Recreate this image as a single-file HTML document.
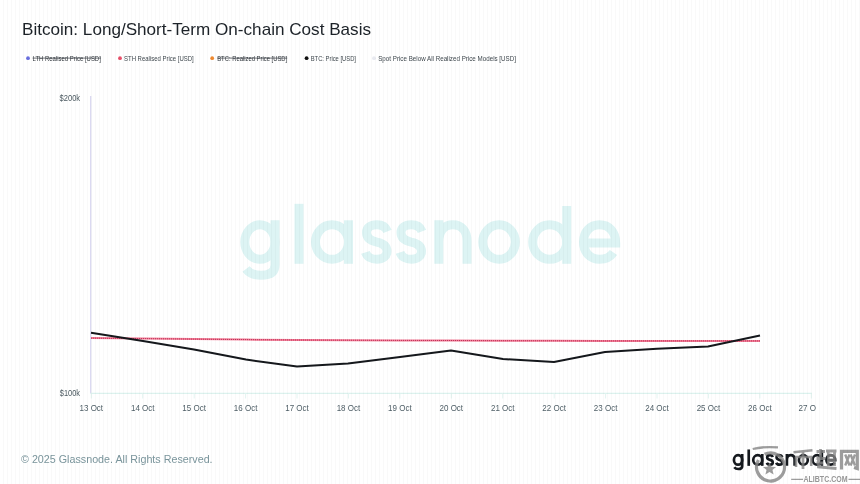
<!DOCTYPE html>
<html><head><meta charset="utf-8">
<style>
html,body{margin:0;padding:0;width:860px;height:484px;overflow:hidden;background:#fff;}
body{position:relative;font-family:"Liberation Sans",sans-serif;}
.stripes{position:absolute;left:0;top:0;width:860px;height:484px;z-index:5;
 background:repeating-linear-gradient(90deg,rgba(0,0,0,0) 0px,rgba(0,0,0,0) 3px,rgba(0,0,0,0.022) 3px,rgba(0,0,0,0.022) 4px);}
svg{position:absolute;left:0;top:0;will-change:transform;}
</style></head>
<body>
<div class="stripes"></div>
<svg width="860" height="484" viewBox="0 0 860 484" font-family="Liberation Sans, sans-serif">
 <!-- title -->
 <text x="22" y="34.7" font-size="17" fill="#1c2228" textLength="349" lengthAdjust="spacingAndGlyphs">Bitcoin: Long/Short-Term On-chain Cost Basis</text>

 <!-- legend -->
 <g font-size="7">
  <circle cx="28" cy="58.2" r="1.9" fill="#6a70e0"/>
  <text x="32.6" y="60.8" fill="#30363c" textLength="68.2" lengthAdjust="spacingAndGlyphs">LTH Realised Price [USD]</text>
  <line x1="32.6" y1="58.1" x2="100.8" y2="58.1" stroke="#30363c" stroke-width="0.7"/>

  <circle cx="120" cy="58.2" r="1.9" fill="#e8506a"/>
  <text x="124" y="60.8" fill="#3e474d" textLength="69.7" lengthAdjust="spacingAndGlyphs">STH Realised Price [USD]</text>

  <circle cx="212.2" cy="58.2" r="1.9" fill="#f08a30"/>
  <text x="217.2" y="60.8" fill="#30363c" textLength="70" lengthAdjust="spacingAndGlyphs">BTC: Realized Price [USD]</text>
  <line x1="217.2" y1="58.1" x2="287.2" y2="58.1" stroke="#30363c" stroke-width="0.7"/>

  <circle cx="306.6" cy="58.2" r="1.9" fill="#111"/>
  <text x="310.7" y="60.8" fill="#3e474d" textLength="45.3" lengthAdjust="spacingAndGlyphs">BTC: Price [USD]</text>

  <circle cx="374" cy="58.2" r="1.9" fill="#e8eaf0"/>
  <text x="378.2" y="60.8" fill="#3e474d" textLength="137.8" lengthAdjust="spacingAndGlyphs">Spot Price Below All Realized Price Models [USD]</text>
 </g>

 <!-- watermark center -->
 <defs><g id="gn" fill="none">
  <ellipse cx="259.9" cy="242.05" rx="15.1" ry="17.25"/>
  <path d="M275 220.3 V265 C275 272.5, 269.5 275.3, 261 275.3 C254.5 275.3, 249.5 273.5, 246 269"/>
  <line x1="299" y1="203.8" x2="299" y2="263.8"/>
  <ellipse cx="332" cy="242.05" rx="16.5" ry="17.25"/>
  <line x1="348.5" y1="220.3" x2="348.5" y2="263.8"/>
  <path d="M387.5 231.3 C385.5 226.3, 380.8 224.8, 376.8 224.8 C370.5 224.8, 366.5 227.8, 366.5 232.5 C366.5 238.8, 371.5 240.9, 376.8 242.1 C382.0 243.2, 387.0 245.4, 387.0 251.3 C387.0 256.3, 382.5 259.3, 376.8 259.3 C371.5 259.3, 367.0 256.8, 365.5 252.3"/>
  <path d="M422.0 231.3 C420.0 226.3, 415.2 224.8, 411.2 224.8 C405.0 224.8, 401.0 227.8, 401.0 232.5 C401.0 238.8, 406.0 240.9, 411.2 242.1 C416.5 243.2, 421.5 245.4, 421.5 251.3 C421.5 256.3, 417.0 259.3, 411.2 259.3 C406.0 259.3, 401.5 256.8, 400.0 252.3"/>
  <path d="M438.8 220.3 V263.8 M438.8 242 C438.8 230.5, 444.5 224.8, 452.9 224.8 C461.3 224.8, 467 230.5, 467 241 V263.8"/>
  <ellipse cx="499.05" cy="242.05" rx="16.25" ry="17.25"/>
  <ellipse cx="549.7" cy="242.05" rx="17" ry="17.25"/>
  <line x1="566.7" y1="206" x2="566.7" y2="263.8"/>
  <path d="M583.5 243 H615.7 C615.7 232, 609 224.8, 599.6 224.8 C590 224.8, 583.5 232, 583.5 242 C583.5 252.5, 590.5 259.3, 599.6 259.3 C606 259.3, 610.5 256.8, 613.5 252.5"/>
 </g></defs>
 <use href="#gn" stroke="#ddf4f4" stroke-width="9"/>

 <!-- axes -->
 <line x1="90.75" y1="96" x2="90.75" y2="393.5" stroke="#cfcdec" stroke-width="1"/>
 <line x1="90.5" y1="393.4" x2="812" y2="393.4" stroke="#dcf2ee" stroke-width="1.4"/>
 <g stroke="#e4f4f1" stroke-width="1">
  <line x1="91.3" y1="393.5" x2="91.3" y2="398.5"/>
  <line x1="142.7" y1="393.5" x2="142.7" y2="398.5"/>
  <line x1="194.2" y1="393.5" x2="194.2" y2="398.5"/>
  <line x1="245.6" y1="393.5" x2="245.6" y2="398.5"/>
  <line x1="297.0" y1="393.5" x2="297.0" y2="398.5"/>
  <line x1="348.4" y1="393.5" x2="348.4" y2="398.5"/>
  <line x1="399.9" y1="393.5" x2="399.9" y2="398.5"/>
  <line x1="451.3" y1="393.5" x2="451.3" y2="398.5"/>
  <line x1="502.7" y1="393.5" x2="502.7" y2="398.5"/>
  <line x1="554.2" y1="393.5" x2="554.2" y2="398.5"/>
  <line x1="605.6" y1="393.5" x2="605.6" y2="398.5"/>
  <line x1="657.0" y1="393.5" x2="657.0" y2="398.5"/>
  <line x1="708.4" y1="393.5" x2="708.4" y2="398.5"/>
  <line x1="759.9" y1="393.5" x2="759.9" y2="398.5"/>
  <line x1="811.3" y1="393.5" x2="811.3" y2="398.5"/>
 </g>
 <g font-size="8.3" fill="#4a585f">
  <text x="59.6" y="100.6" textLength="20.5" lengthAdjust="spacingAndGlyphs">$200k</text>
  <text x="59.8" y="395.8" textLength="20.2" lengthAdjust="spacingAndGlyphs">$100k</text>
 </g>
 <g font-size="8.9" fill="#4f5f67">
  <text x="79.52" y="410.8" textLength="23.57" lengthAdjust="spacingAndGlyphs">13 Oct</text>
  <text x="130.95" y="410.8" textLength="23.57" lengthAdjust="spacingAndGlyphs">14 Oct</text>
  <text x="182.37" y="410.8" textLength="23.57" lengthAdjust="spacingAndGlyphs">15 Oct</text>
  <text x="233.80" y="410.8" textLength="23.57" lengthAdjust="spacingAndGlyphs">16 Oct</text>
  <text x="285.23" y="410.8" textLength="23.57" lengthAdjust="spacingAndGlyphs">17 Oct</text>
  <text x="336.66" y="410.8" textLength="23.57" lengthAdjust="spacingAndGlyphs">18 Oct</text>
  <text x="388.09" y="410.8" textLength="23.57" lengthAdjust="spacingAndGlyphs">19 Oct</text>
  <text x="439.52" y="410.8" textLength="23.57" lengthAdjust="spacingAndGlyphs">20 Oct</text>
  <text x="490.95" y="410.8" textLength="23.57" lengthAdjust="spacingAndGlyphs">21 Oct</text>
  <text x="542.37" y="410.8" textLength="23.57" lengthAdjust="spacingAndGlyphs">22 Oct</text>
  <text x="593.80" y="410.8" textLength="23.57" lengthAdjust="spacingAndGlyphs">23 Oct</text>
  <text x="645.23" y="410.8" textLength="23.57" lengthAdjust="spacingAndGlyphs">24 Oct</text>
  <text x="696.66" y="410.8" textLength="23.57" lengthAdjust="spacingAndGlyphs">25 Oct</text>
  <text x="748.09" y="410.8" textLength="23.57" lengthAdjust="spacingAndGlyphs">26 Oct</text>
 </g>
 <text x="798.6" y="410.8" font-size="8.9" fill="#4f5f67" textLength="17.5" lengthAdjust="spacingAndGlyphs">27 O</text>

 <!-- series -->
 <polyline points="91,338.1 143,338.6 194,339.1 246,339.6 297,340 348,340.2 400,340.4 451,340.5 503,340.7 554,340.8 605,340.9 760,340.9" fill="none" stroke="#f07a94" stroke-width="2"/>
 <polyline points="91,338.1 143,338.6 194,339.1 246,339.6 297,340 348,340.2 400,340.4 451,340.5 503,340.7 554,340.8 605,340.9 760,340.9" fill="none" stroke="#c0325a" stroke-width="1" stroke-dasharray="1 1"/>
 <polyline points="91,332.8 143,341 194,349.5 246,359.6 297,366.6 348,363.5 400,357 451,350.4 503,359 554,362 605,352.1 657,348.8 708,346.5 760,335.4" fill="none" stroke="#15181c" stroke-width="2" stroke-linejoin="round"/>

 <!-- footer -->
 <text x="21" y="463" font-size="11" fill="#7a959c" textLength="191.6" lengthAdjust="spacingAndGlyphs">© 2025 Glassnode. All Rights Reserved.</text>
 <use href="#gn" stroke="#15191e" stroke-width="9.8" transform="translate(667.07 393.81) scale(0.2731)"/>

 <!-- alibtc watermark -->
 <g opacity="0.8" fill="none" stroke="#858585">
  <path d="M752.7 449 Q764 446.2 778 447.4" stroke-width="2.3"/>
    <path d="M764.6 454.3 A14 14 0 1 1 758.4 460" stroke-width="3.2"/>
  <path d="M769.5 462.5 L771.4 466.8 L776 467.1 L772.5 470 L773.6 474.4 L769.5 472 L765.4 474.4 L766.5 470 L763 467.1 L767.6 466.8 Z" fill="#858585" stroke="none"/>
  <!-- bi -->
  <path d="M793.5 452.2 L812.5 450.3" stroke-width="2.6"/>
  <path d="M803 452 V469" stroke-width="2.8"/>
  <path d="M796 457 V467 M795 457 H811.2 V466" stroke-width="2.6"/>
  <!-- qu -->
  <path d="M816.5 451.5 H825 M820.5 449 V458.5 M816.5 458.5 H825 M818.5 460 V467 L836.5 468.5 M826 451 H836.5 M828.3 451 V466 M834.5 451 V466 M828 455.5 H834.5 M828 460.5 H834.5 M816.5 463 H823" stroke-width="2.8"/>
  <!-- wang -->
  <path d="M841.5 469.5 V451.3 H857.3 V468.5 L854 467.5" stroke-width="3.2"/>
  <path d="M845.2 454.5 L849.6 465.5 M849.6 454.5 L845.2 465.5 M850.6 454.5 L855 465.5 M855 454.5 L850.6 465.5" stroke-width="2.4"/>
  <path d="M791.2 479.3 H803 M848.5 479.3 H860" stroke-width="1.3"/>
 </g>
 <text x="803.5" y="481.5" font-size="8.2" font-weight="bold" fill="#858585" opacity="0.85" textLength="44" lengthAdjust="spacingAndGlyphs">ALIBTC.COM</text>
</svg>
</body></html>
